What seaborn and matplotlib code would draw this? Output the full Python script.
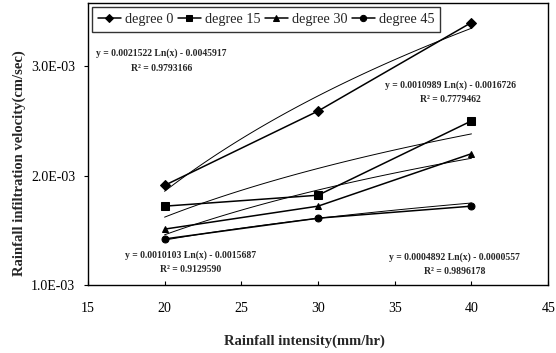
import numpy as np
import pandas as pd
import matplotlib
matplotlib.use("Agg")
import matplotlib.pyplot as plt
from matplotlib.ticker import FuncFormatter, FixedLocator
import seaborn as sns

# Rainfall intensity (mm/hr)
intensity = [20, 30, 40]

# Infiltration velocity (cm/sec) per slope angle
deg0 = [1.91e-3, 2.59e-3, 3.40e-3]
deg15 = [1.72e-3, 1.82e-3, 2.50e-3]
deg30 = [1.51e-3, 1.72e-3, 2.20e-3]
deg45 = [1.42e-3, 1.61e-3, 1.72e-3]

series_names = ["degree 0", "degree 15", "degree 30", "degree 45"]
series_values = [deg0, deg15, deg30, deg45]
series_markers = ["D", "s", "^", "o"]

# Logarithmic trendlines: y = a Ln(x) + b, with R^2
trend_a = [0.0021522, 0.0010989, 0.0010103, 0.0004892]
trend_b = [-0.0045917, -0.0016726, -0.0015687, -0.0000557]
trend_r2 = ["0.9793166", "0.7779462", "0.9129590", "0.9896178"]
eq_x = [19.8, 38.6, 21.7, 38.9]
eq_y = [3.05e-3, 2.76e-3, 1.21e-3, 1.19e-3]

sns.set_style("white")
plt.rcParams["font.family"] = ["Liberation Serif", "DejaVu Serif"]

fig = plt.figure(figsize=(5.56, 3.53), dpi=100)
ax = fig.add_axes([0.158, 0.193, 0.828, 0.799])

df = pd.DataFrame({
    "intensity": np.tile(intensity, len(series_names)),
    "velocity": np.concatenate(series_values),
    "series": np.repeat(series_names, len(intensity)),
})

for name, mk in zip(series_names, series_markers):
    sub = df[df["series"] == name]
    sns.lineplot(data=sub, x="intensity", y="velocity", ax=ax, color="black",
                 marker=mk, markersize=5 if mk != "s" else 5.5,
                 markeredgecolor="black", linewidth=1.1, label=name,
                 estimator=None, sort=False)

# trendlines
xs = np.linspace(intensity[0], intensity[-1], 100)
for a, b in zip(trend_a, trend_b):
    ax.plot(xs, a * np.log(xs) + b, color="black", linewidth=0.7, zorder=1)

for a, b, r2, tx, ty in zip(trend_a, trend_b, trend_r2, eq_x, eq_y):
    sign = "-" if b < 0 else "+"
    txt = f"y = {a:.7f} Ln(x) {sign} {abs(b):.7f}\nR² = {r2}"
    ax.text(tx, ty, txt, ha="center", va="center", multialignment="center",
            fontsize=6.9, fontweight="bold", linespacing=1.75)

ax.set_xlim(15, 45)
ax.set_ylim(1.0e-3, 3.58e-3)
ax.xaxis.set_major_locator(FixedLocator([15, 20, 25, 30, 35, 40, 45]))
ax.yaxis.set_major_locator(FixedLocator([1.0e-3, 2.0e-3, 3.0e-3]))
ax.yaxis.set_major_formatter(FuncFormatter(lambda v, p: f"{v:.1E}"))
ax.tick_params(axis="x", direction="in", length=3, labelsize=10, pad=12, colors="black")
ax.tick_params(axis="y", direction="out", length=3, labelsize=10, pad=6, colors="black")
ax.tick_params(left=True, bottom=True)

for sp in ax.spines.values():
    sp.set_color("black")
    sp.set_linewidth(1.0)

ax.set_xlabel("Rainfall intensity(mm/hr)", fontsize=10.5, fontweight="bold")
ax.set_ylabel("Rainfall infiltration velocity(cm/sec)", fontsize=10.5, fontweight="bold")
ax.xaxis.set_label_coords(0.47, -0.175)
ax.yaxis.set_label_coords(-0.135, 0.43)

leg = ax.legend(loc="upper left", ncol=4, fontsize=10.3, frameon=True, fancybox=False,
                edgecolor="black", handlelength=1.6, handletextpad=0.3,
                columnspacing=0.3, borderpad=0.4, borderaxespad=0.3, markerscale=0.9)
leg.get_frame().set_linewidth(1.0)

fig.savefig("out.png", dpi=100)
